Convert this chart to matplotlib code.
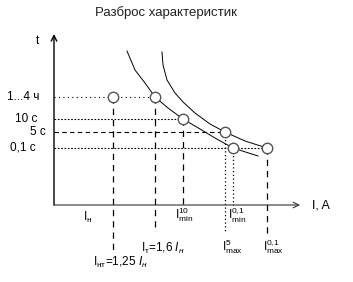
import matplotlib
matplotlib.use("Agg")
import matplotlib.pyplot as plt

plt.rcParams['font.family'] = ['Liberation Sans', 'DejaVu Sans']
plt.rcParams['mathtext.fontset'] = 'custom'
plt.rcParams['mathtext.rm'] = 'Liberation Sans'
plt.rcParams['mathtext.it'] = 'Liberation Sans:italic'

# schematic data (arbitrary units, origin at the axes crossing)
time_labels = ["1...4 ч", "10 с", "5 с", "0,1 с"]
time_levels = [108, 86, 73, 57]
time_label_x = [-47, -39, -24, -44]

# points on the characteristics: (current, time)
pt_x = [59, 101, 129, 171, 179, 213]
pt_y = [108, 108, 86, 73, 57, 57]

# lower characteristic
c1_x = [73, 81, 91, 101, 114, 129, 146, 161, 179, 204]
c1_y = [154, 135, 122, 108, 97, 86, 76, 67, 57, 49]
# upper characteristic
c2_x = [108, 109, 113, 121, 129, 141, 156, 171, 191, 213]
c2_y = [153, 140, 125, 112, 103, 92, 81, 73, 64, 57]

fig = plt.figure(figsize=(3.53, 2.82), dpi=100)
ax = fig.add_axes([0, 0, 1, 1])
ax.set_xlim(-54, 299)
ax.set_ylim(-77, 205)
ax.axis('off')

# axes with arrows
ax.annotate("", xy=(0, 171), xytext=(0, 0),
            arrowprops=dict(arrowstyle='->', lw=1.0, color='black', shrinkA=0, shrinkB=0))
ax.annotate("", xy=(246, 0), xytext=(0, 0),
            arrowprops=dict(arrowstyle='->', lw=0.8, color='#333333', shrinkA=0, shrinkB=0))
ax.text(-17, 164, "t", fontsize=8.5, ha='center', va='center')
ax.text(258, 0, "I, A", fontsize=9, ha='left', va='center')

# horizontal guide lines to the points
h_end = [101, 129, 171, 213]
h_style = [(0, (1, 3)), (0, (1.5, 1.5)), (0, (4, 3)), (0, (1.5, 1.5))]
for y, xe, ls in zip(time_levels, h_end, h_style):
    ax.plot([0, xe], [y, y], color='black', lw=0.8, ls=ls)
for lab, y, x in zip(time_labels, time_levels, time_label_x):
    ax.text(x, y, lab, fontsize=8.5, ha='left', va='center')

# vertical guide lines
v_x = [59, 101, 129, 171, 179, 213]
v_top = [108, 108, 86, 73, 57, 57]
v_bot = [-47, -25, 0, -28, 0, -30]
v_style = [(0, (5, 4)), (0, (5, 4)), (0, (5, 4)), (0, (1, 2)), (0, (1, 2)), (0, (5, 4))]
for x, t, b, ls in zip(v_x, v_top, v_bot, v_style):
    ax.plot([x, x], [t, b], color='black', lw=0.9, ls=ls)

# characteristics
ax.plot(c1_x, c1_y, color='black', lw=0.7)
ax.plot(c2_x, c2_y, color='black', lw=0.7)

# points
ax.plot(pt_x, pt_y, 'o', ms=7.5, mfc='white', mec='#555555', mew=1.0, zorder=5)

# current labels
fs = 8.5
ax.text(29, -12, r"$\mathregular{I_{н}}$", fontsize=fs, ha='left', va='center')
ax.text(39, -57, r"$\mathregular{I_{нт}}$=1,25 $\mathit{I_{н}}$", fontsize=fs, ha='left', va='center')
ax.text(87, -43, r"$\mathregular{I_{т}}$=1,6 $\mathit{I_{н}}$", fontsize=fs, ha='left', va='center')
ax.text(121, -10, r"$\mathregular{I^{10}_{min}}$", fontsize=fs, ha='left', va='center')
ax.text(174, -10, r"$\mathregular{I^{0{,}1}_{min}}$", fontsize=fs, ha='left', va='center')
ax.text(168, -42, r"$\mathregular{I^{5}_{max}}$", fontsize=fs, ha='left', va='center')
ax.text(209, -42, r"$\mathregular{I^{0{,}1}_{max}}$", fontsize=fs, ha='left', va='center')

ax.text(112, 192, "Разброс характеристик", fontsize=9.5, ha='center', va='center', color='#222222')

fig.savefig("out.png", dpi=100)
